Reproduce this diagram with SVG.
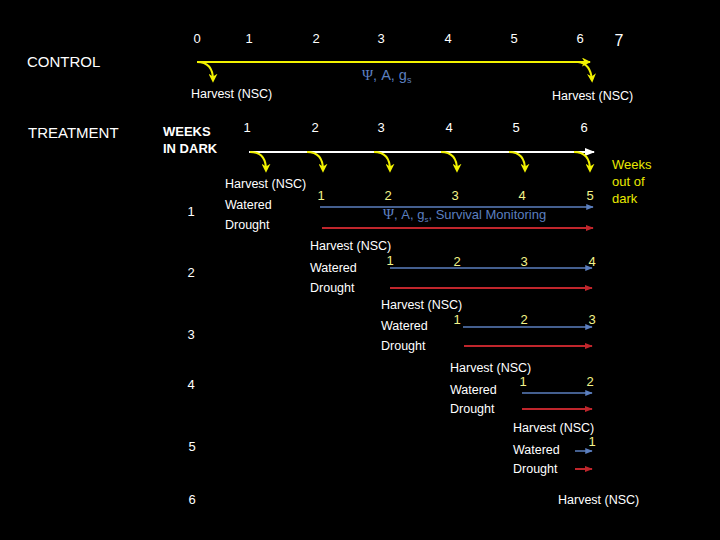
<svg xmlns="http://www.w3.org/2000/svg" width="720" height="540" viewBox="0 0 720 540">
<style>
text{font-family:"Liberation Sans",Arial,sans-serif;}
.w{fill:#ffffff;font-size:12.5px;}
.n{fill:#ffffff;font-size:13px;text-anchor:middle;}
.y{fill:#f4f48a;font-size:13px;text-anchor:middle;}
.big{fill:#ffffff;font-size:15px;}
.bold{fill:#ffffff;font-size:13px;font-weight:bold;}
.bl{fill:#5b7fbf;font-size:13px;}
.psi{font-family:"Liberation Serif",serif;font-size:15px;}
.yl{fill:#e8e800;font-size:13px;}
.yc{fill:none;stroke:#f2f200;stroke-width:2;}
.ycurve{fill:none;stroke:#f2f200;stroke-width:2;marker-end:url(#ya);}
.wline{fill:none;stroke:#ffffff;stroke-width:2;}
.bline{fill:none;stroke:#5b7fbf;stroke-width:1.5;marker-end:url(#ba);}
.rline{fill:none;stroke:#c0262c;stroke-width:2;marker-end:url(#ra);}
</style>
<defs>
<marker id="ya" viewBox="0 0 10 10" refX="7" refY="5" markerWidth="4.5" markerHeight="4.5" orient="auto" markerUnits="strokeWidth"><path d="M0,0 L10,5 L0,10 L3,5 Z" fill="#f2f200"/></marker>
<marker id="ba" viewBox="0 0 10 10" refX="9" refY="5" markerWidth="5" markerHeight="5" orient="auto" markerUnits="strokeWidth"><path d="M0,1 L10,5 L0,9 Z" fill="#5b7fbf"/></marker>
<marker id="ra" viewBox="0 0 10 10" refX="9" refY="5" markerWidth="4" markerHeight="4" orient="auto" markerUnits="strokeWidth"><path d="M0,1 L10,5 L0,9 Z" fill="#c0262c"/></marker>
<marker id="wa" viewBox="0 0 10 10" refX="9" refY="5" markerWidth="5" markerHeight="5" orient="auto" markerUnits="strokeWidth"><path d="M0,1 L10,5 L0,9 Z" fill="#ffffff"/></marker>
<marker id="yla" viewBox="0 0 10 10" refX="9" refY="5" markerWidth="4.5" markerHeight="4.5" orient="auto" markerUnits="strokeWidth"><path d="M0,0 L10,5 L0,10 L3,5 Z" fill="#f2f200"/></marker>
</defs>
<rect width="720" height="540" fill="#000000"/>

<g id="control">
<text class="big" x="27" y="67">CONTROL</text>
<text class="n" x="197" y="43">0</text>
<text class="n" x="249" y="43">1</text>
<text class="n" x="316" y="43">2</text>
<text class="n" x="381" y="43">3</text>
<text class="n" x="448" y="43">4</text>
<text class="n" x="514" y="43">5</text>
<text class="n" x="580" y="43">6</text>
<text class="n" x="619" y="46" style="font-size:16px">7</text>
<text class="bl" x="362" y="80" style="font-size:14.5px"><tspan class="psi">Ψ</tspan>, A, g<tspan font-size="9" dy="3">s</tspan></text>
<text class="w" x="191" y="98">Harvest (NSC)</text>
<text class="w" x="552" y="100">Harvest (NSC)</text>
</g>

<g id="treatment-header">
<text class="big" x="28" y="138">TREATMENT</text>
<text class="bold" x="163" y="136">WEEKS</text>
<text class="bold" x="163" y="153">IN DARK</text>
<text class="n" x="247" y="132">1</text>
<text class="n" x="315" y="132">2</text>
<text class="n" x="381" y="132">3</text>
<text class="n" x="449" y="132">4</text>
<text class="n" x="516" y="132">5</text>
<text class="n" x="584" y="132">6</text>
<text class="yl" x="612" y="169">Weeks</text>
<text class="yl" x="612" y="186">out of</text>
<text class="yl" x="612" y="203">dark</text>
</g>

<g id="row1">
<text class="n" x="191" y="216">1</text>
<text class="w" x="225" y="188">Harvest (NSC)</text>
<text class="w" x="225" y="209">Watered</text>
<text class="w" x="225" y="229">Drought</text>
<text class="y" x="321" y="200">1</text>
<text class="y" x="388" y="200">2</text>
<text class="y" x="455" y="200">3</text>
<text class="y" x="522" y="200">4</text>
<text class="y" x="590" y="200">5</text>
<text class="bl" x="383" y="219"><tspan class="psi">Ψ</tspan>, A, g<tspan font-size="8" dy="3">s</tspan><tspan dy="-3">, Survival Monitoring</tspan></text>
</g>

<g id="row2">
<text class="n" x="191" y="277">2</text>
<text class="w" x="310" y="250">Harvest (NSC)</text>
<text class="w" x="310" y="272">Watered</text>
<text class="w" x="310" y="292">Drought</text>
<text class="y" x="390" y="265">1</text>
<text class="y" x="457" y="266">2</text>
<text class="y" x="524" y="266">3</text>
<text class="y" x="592" y="266">4</text>
</g>

<g id="row3">
<text class="n" x="191" y="339">3</text>
<text class="w" x="381" y="309">Harvest (NSC)</text>
<text class="w" x="381" y="330">Watered</text>
<text class="w" x="381" y="350">Drought</text>
<text class="y" x="457" y="324">1</text>
<text class="y" x="524" y="324">2</text>
<text class="y" x="592" y="324">3</text>
</g>

<g id="row4">
<text class="n" x="191" y="389">4</text>
<text class="w" x="450" y="372">Harvest (NSC)</text>
<text class="w" x="450" y="394">Watered</text>
<text class="w" x="450" y="413">Drought</text>
<text class="y" x="523" y="386">1</text>
<text class="y" x="590" y="386">2</text>
</g>

<g id="row5">
<text class="n" x="192" y="451">5</text>
<text class="w" x="513" y="432">Harvest (NSC)</text>
<text class="w" x="513" y="454">Watered</text>
<text class="w" x="513" y="473">Drought</text>
<text class="y" x="592" y="446">1</text>
</g>

<g id="row6">
<text class="n" x="192" y="504">6</text>
<text class="w" x="558" y="504">Harvest (NSC)</text>
</g>

<g id="connectors">
<line class="yc" x1="197" y1="62" x2="590" y2="62" marker-end="url(#yla)"/>
<path class="ycurve" d="M197,62 C207,62 213,67 213,80"/>
<path class="ycurve" d="M578,62 C586,63 591,68 592,80"/>

<line class="wline" x1="249" y1="152" x2="594" y2="152" marker-end="url(#wa)"/>
<path class="ycurve" d="M250,152 C260,152 266,157 266,170"/>
<path class="ycurve" d="M307,152 C317,152 323,157 323,170"/>
<path class="ycurve" d="M374,152 C384,152 390,157 390,170"/>
<path class="ycurve" d="M441,152 C451,152 457,157 457,170"/>
<path class="ycurve" d="M509,152 C519,152 525,157 525,170"/>
<path class="ycurve" d="M574,152 C584,152 590,157 590,170"/>

<line class="bline" x1="320" y1="207" x2="593" y2="207"/>
<line class="rline" x1="322" y1="228" x2="593" y2="228"/>
<line class="bline" x1="390" y1="268" x2="592" y2="268"/>
<line class="rline" x1="390" y1="288" x2="592" y2="288"/>
<line class="bline" x1="463" y1="327" x2="592" y2="327"/>
<line class="rline" x1="464" y1="346" x2="592" y2="346"/>
<line class="bline" x1="522" y1="393" x2="592" y2="393"/>
<line class="rline" x1="522" y1="409" x2="592" y2="409"/>
<line class="bline" x1="575" y1="451" x2="592" y2="451"/>
<line class="rline" x1="575" y1="469" x2="592" y2="469"/>
</g>
</svg>
